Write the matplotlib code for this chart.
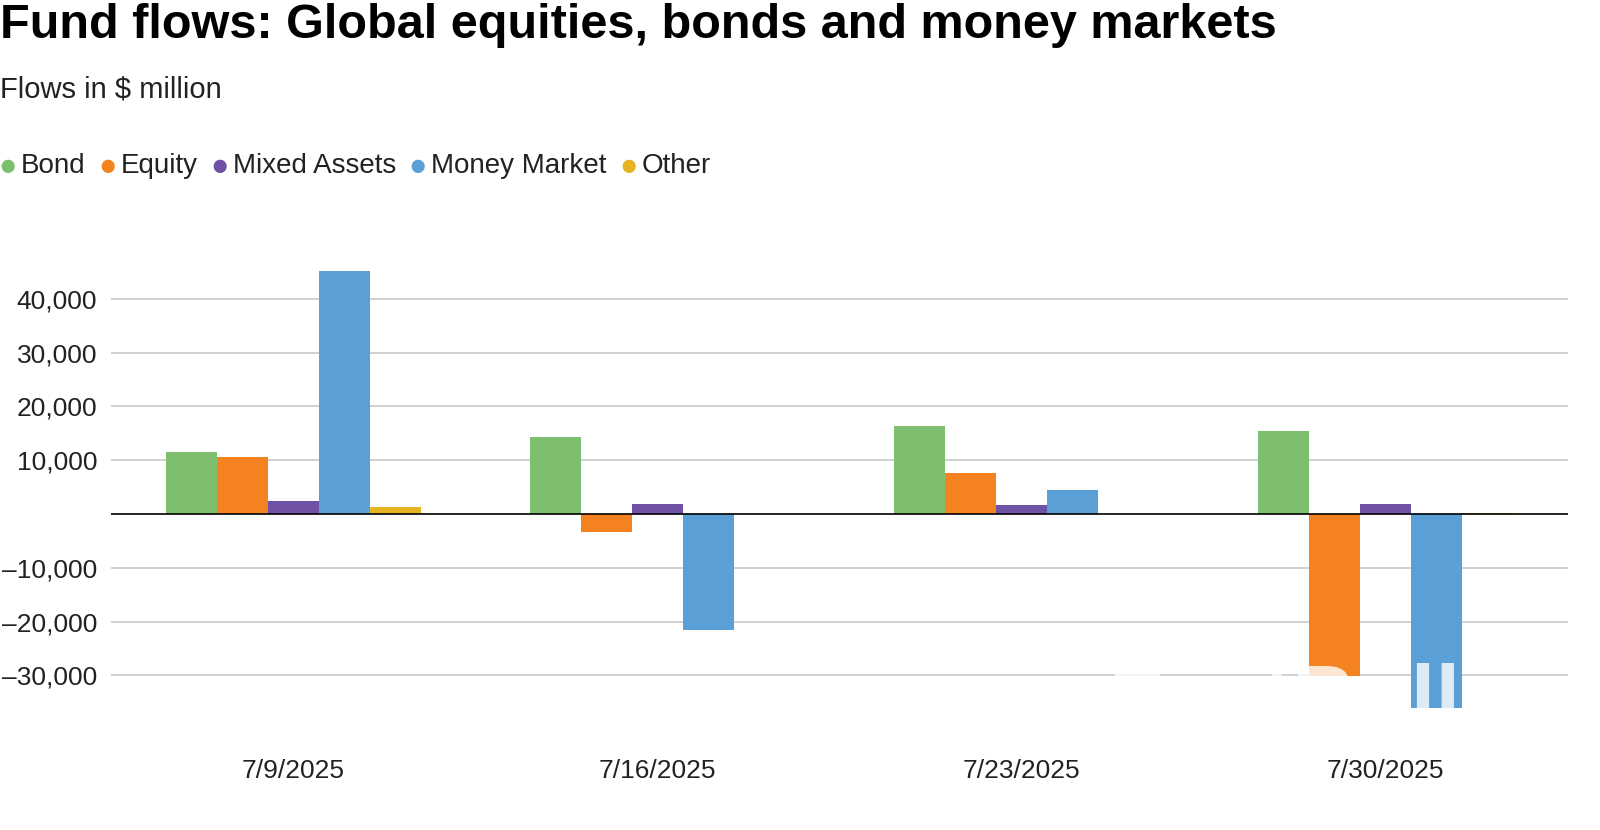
import numpy as np
import matplotlib
matplotlib.use('Agg')
import matplotlib.pyplot as plt

plt.rcParams['font.family'] = ['Liberation Sans', 'DejaVu Sans']

# ── data (flows in $ million) ──
dates        = ['7/9/2025', '7/16/2025', '7/23/2025', '7/30/2025']
bond         = [11500, 14300, 16400, 15400]
equity       = [10600, -3350, 7600, -30100]
mixed_assets = [2400, 1850, 1700, 1850]
money_market = [45200, -21600, 4450, -36100]
other        = [1300, 50, -80, 250]

series = [('Bond', bond, '#7dbf6e'),
          ('Equity', equity, '#f58220'),
          ('Mixed Assets', mixed_assets, '#6f52a6'),
          ('Money Market', money_market, '#5a9fd6'),
          ('Other', other, '#e6b422')]
yticks = [-30000, -20000, -10000, 10000, 20000, 30000, 40000]

fig = plt.figure(figsize=(16, 8.3), dpi=100)
ax = fig.add_axes([111/1600, 1 - 740/830, (1568-111)/1600, 495/830])

x = np.arange(len(dates))
w = 0.14
for i, (name, vals, col) in enumerate(series):
    ax.bar(x + (i - 2) * w, vals, width=w, color=col, zorder=3)

ax.set_xlim(-0.5, len(dates) - 0.5)
ax.set_ylim(-42000, 50000)
ax.set_yticks(yticks)
ax.set_yticklabels([f'{v:,}'.replace('-', '\u2013') for v in yticks])
ax.set_xticks(x)
ax.set_xticklabels(dates)
ax.grid(axis='y', color='#c8c8c8', lw=1.2, zorder=0)
ax.axhline(0, color='black', lw=1.2, zorder=4)
for s in ax.spines.values():
    s.set_visible(False)
ax.tick_params(length=0, labelsize=19, colors='#222222')
ax.tick_params(axis='x', pad=14)
ax.tick_params(axis='y', pad=10)

fig.text(0.0, 1 - 25/830, 'Fund flows: Global equities, bonds and money markets',
         fontsize=35, fontweight='bold', va='center', ha='left')
fig.text(0.0, 1 - 90/830, 'Flows in $ million', fontsize=21, va='center', color='#222222')

# legend row
lx = 8
for name, vals, col in series:
    fig.text(lx / 1600, 1 - 167/830, '\u25CF', color=col, fontsize=22, va='center', ha='center')
    t = fig.text((lx + 13) / 1600, 1 - 166/830, name, fontsize=20, va='center', color='#222222')
    fig.canvas.draw()
    bb = t.get_window_extent()
    lx = bb.x1 + 22

# watermark
fig.text(1285/1600, 1 - 705/830, 'FastBull', fontsize=64, fontweight='bold',
         color='white', alpha=0.8, ha='center', va='center', zorder=10)

fig.savefig('out.png', dpi=100, facecolor='white')
